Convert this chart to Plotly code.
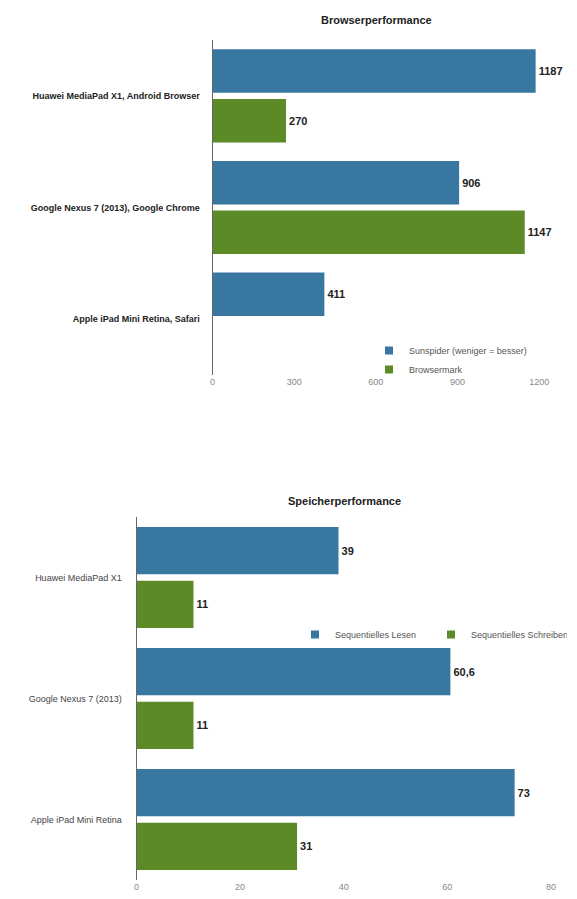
import plotly.graph_objects as go

W, H = 577, 899

# ---- data: chart 1 ----
browser_devices = ["Huawei MediaPad X1, Android Browser",
                   "Google Nexus 7 (2013), Google Chrome",
                   "Apple iPad Mini Retina, Safari"]
sunspider = [1187, 906, 411]
browsermark = [270, 1147, None]
browser_series = ["Sunspider (weniger = besser)", "Browsermark"]
browser_ticks = [0, 300, 600, 900, 1200]

# ---- data: chart 2 ----
storage_devices = ["Huawei MediaPad X1", "Google Nexus 7 (2013)", "Apple iPad Mini Retina"]
seq_read = [39, 60.6, 73]
seq_write = [11, 11, 31]
storage_series = ["Sequentielles Lesen", "Sequentielles Schreiben"]
storage_ticks = [0, 20, 40, 60, 80]

BLUE = "#38779f"
GREEN = "#5b8a26"
FONT = "Liberation Sans, Arial, Helvetica, sans-serif"


def px(x):
    return x / W


def py(y):
    return 1 - y / H


def fmt(v):
    if v is None:
        return ""
    return f"{v:g}".replace(".", ",")


fig = go.Figure()

# chart 1 bars
for vals, col in [(sunspider, BLUE), (browsermark, GREEN)]:
    fig.add_trace(go.Bar(
        x=vals, y=browser_devices, orientation="h", marker=dict(color=col, line=dict(width=0)),
        text=[fmt(v) for v in vals], textposition="outside", cliponaxis=False,
        textfont=dict(size=11, color="#222", family=FONT, weight="bold"),
        xaxis="x", yaxis="y", showlegend=False))
# chart 1 legend entries
for name, col in zip(browser_series, [BLUE, GREEN]):
    fig.add_trace(go.Scatter(x=[None], y=[None], mode="markers", name=name,
                             marker=dict(symbol="square", size=8, color=col),
                             xaxis="x", yaxis="y", legend="legend"))

# chart 2 bars
for vals, col in [(seq_read, BLUE), (seq_write, GREEN)]:
    fig.add_trace(go.Bar(
        x=vals, y=storage_devices, orientation="h", marker=dict(color=col, line=dict(width=0)),
        text=[fmt(v) for v in vals], textposition="outside", cliponaxis=False,
        textfont=dict(size=11, color="#222", family=FONT, weight="bold"),
        xaxis="x2", yaxis="y2", showlegend=False))
for name, col in zip(storage_series, [BLUE, GREEN]):
    fig.add_trace(go.Scatter(x=[None], y=[None], mode="markers", name=name,
                             marker=dict(symbol="square", size=8, color=col),
                             xaxis="x2", yaxis="y2", legend="legend2"))

axis_common = dict(showgrid=False, zeroline=False, ticks="", fixedrange=True, automargin=False)

fig.update_layout(
    width=W, height=H,
    margin=dict(l=0, r=0, t=0, b=0, autoexpand=False),
    paper_bgcolor="white", plot_bgcolor="white",
    font=dict(family=FONT, color="#333"),
    barmode="group", bargap=0.11, bargroupgap=0.125,
    xaxis=dict(domain=[px(212.5), px(555.5)], range=[0, 1260], tickvals=browser_ticks,
               showline=False, anchor="y",
               tickfont=dict(size=9, color="#888"), **axis_common),
    yaxis=dict(domain=[py(375), py(40)], autorange="reversed", anchor="x",
               showline=True, linecolor="#666", linewidth=1,
               ticklabelstandoff=10,
               tickfont=dict(size=9, color="#222", weight="bold"), **axis_common),
    xaxis2=dict(domain=[px(136.5), px(571.6)], range=[0, 84], tickvals=storage_ticks,
                showline=False, anchor="y2",
                tickfont=dict(size=9, color="#888"), **axis_common),
    yaxis2=dict(domain=[py(880), py(517)], autorange="reversed", anchor="x2",
                showline=True, linecolor="#666", linewidth=1,
                ticklabelstandoff=12,
                tickfont=dict(size=9, color="#444"), **axis_common),
    legend=dict(x=px(369), y=py(336), xanchor="left", yanchor="top",
                orientation="v", bgcolor="rgba(0,0,0,0)", tracegroupgap=0,
                font=dict(size=9, color="#555")),
    legend2=dict(x=px(295), y=py(620), xanchor="left", yanchor="top",
                 orientation="h", bgcolor="rgba(0,0,0,0)",
                 entrywidth=91, entrywidthmode="pixels",
                 font=dict(size=9, color="#555")),
    annotations=[
        dict(text="<b>Browserperformance</b>", x=px(376), y=py(20), xref="paper", yref="paper",
             xanchor="center", yanchor="middle", showarrow=False,
             font=dict(size=11, color="#222")),
        dict(text="<b>Speicherperformance</b>", x=px(344), y=py(501), xref="paper", yref="paper",
             xanchor="center", yanchor="middle", showarrow=False,
             font=dict(size=11, color="#222")),
    ],
)

fig.write_html("out.html")
